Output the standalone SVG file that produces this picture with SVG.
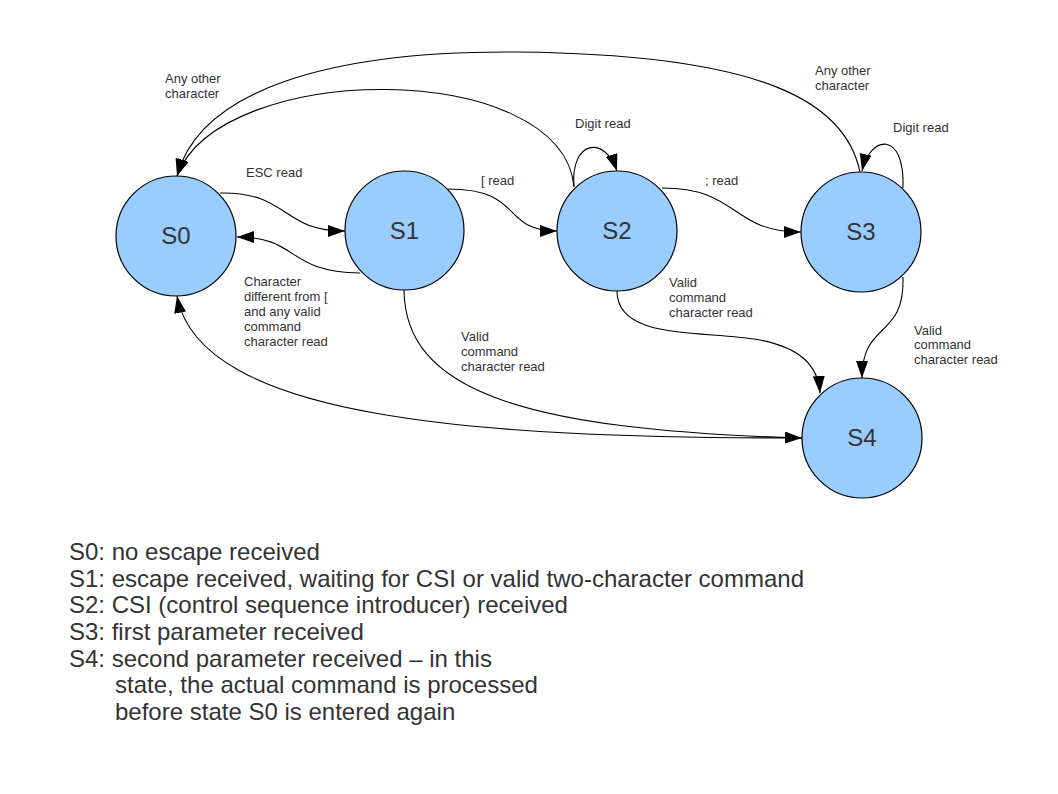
<svg xmlns="http://www.w3.org/2000/svg" width="1058" height="794" viewBox="0 0 1058 794">
<defs>
<style>
.node{fill:#99ccff;stroke:#000;stroke-width:1.2}
.nl{font-family:"Liberation Sans",Arial,sans-serif;font-size:24px;fill:#333;text-anchor:middle}
.edge{fill:none;stroke:#000;stroke-width:1.1;marker-end:url(#ah)}
.el{font-family:"Liberation Sans",Arial,sans-serif;font-size:13px;fill:#333}
.lg{font-family:"Liberation Sans",Arial,sans-serif;font-size:24px;fill:#333}
</style>
<marker id="ah" markerUnits="userSpaceOnUse" markerWidth="18" markerHeight="13" refX="17" refY="6" orient="auto">
<path d="M0,0 L17,6 L0,12 z" fill="#000"/>
</marker>
</defs>
<rect width="1058" height="794" fill="#fff"/>
<g id="connectors">
<path class="edge" d="M220,193 C290,192 280,231 345,231"/>
<path class="edge" d="M360,273 C285,272 300,237 237,237"/>
<path class="edge" d="M448,189 C525,189 500,231 557,231"/>
<path class="edge" d="M662,188 C740,188 730,232 801,232"/>
<path class="edge" d="M574,187 C570,140 605,135 617,171"/>
<path class="edge" d="M903,188 C905,130 870,135 862,171"/>
<path class="edge" d="M574,186 C560,58 220,60 177,176"/>
<path class="edge" d="M860,172 C845,100 760,55 520,52 C330,50 200,90 177,176"/>
<path class="edge" d="M903,277 C905,340 862,320 862,378"/>
<path class="edge" d="M617,291 C617,340 700,330 760,340 C800,348 818,365 820,393"/>
<path class="edge" d="M404,290 C405,390 520,430 802,438"/>
<path class="edge" d="M802,438 C480,438 200,420 177,296"/>
</g>
<g id="edge-labels">
<text class="el" x="246" y="177">ESC read</text>
<text class="el" x="244" y="286">Character</text>
<text class="el" x="244" y="301">different from [</text>
<text class="el" x="244" y="316">and any valid</text>
<text class="el" x="244" y="331">command</text>
<text class="el" x="244" y="346">character read</text>
<text class="el" x="481" y="185">[ read</text>
<text class="el" x="705" y="185">; read</text>
<text class="el" x="575" y="128">Digit read</text>
<text class="el" x="893" y="132">Digit read</text>
<text class="el" x="165" y="83">Any other</text>
<text class="el" x="165" y="98">character</text>
<text class="el" x="815" y="75">Any other</text>
<text class="el" x="815" y="90">character</text>
<text class="el" x="669" y="287">Valid</text>
<text class="el" x="669" y="302">command</text>
<text class="el" x="669" y="317">character read</text>
<text class="el" x="461" y="341">Valid</text>
<text class="el" x="461" y="356">command</text>
<text class="el" x="461" y="371">character read</text>
<text class="el" x="914" y="335">Valid</text>
<text class="el" x="914" y="349">command</text>
<text class="el" x="914" y="364">character read</text>
</g>
<g id="S0"><circle class="node" cx="176" cy="236" r="60"/><text class="nl" x="176" y="244">S0</text></g>
<g id="S1"><circle class="node" cx="404.5" cy="230.5" r="59.5"/><text class="nl" x="404.5" y="239">S1</text></g>
<g id="S2"><circle class="node" cx="617" cy="231" r="60"/><text class="nl" x="617" y="239">S2</text></g>
<g id="S3"><circle class="node" cx="861" cy="232" r="60"/><text class="nl" x="861" y="240">S3</text></g>
<g id="S4"><circle class="node" cx="862" cy="438" r="60"/><text class="nl" x="862" y="446">S4</text></g>
<g id="legend">
<text class="lg" x="69" y="560">S0: no escape received</text>
<text class="lg" x="69" y="587">S1: escape received, waiting for CSI or valid two-character command</text>
<text class="lg" x="69" y="613">S2: CSI (control sequence introducer) received</text>
<text class="lg" x="69" y="640">S3: first parameter received</text>
<text class="lg" x="69" y="667">S4: second parameter received – in this</text>
<text class="lg" x="115" y="693">state, the actual command is processed</text>
<text class="lg" x="115" y="720">before state S0 is entered again</text>
</g>
</svg>
